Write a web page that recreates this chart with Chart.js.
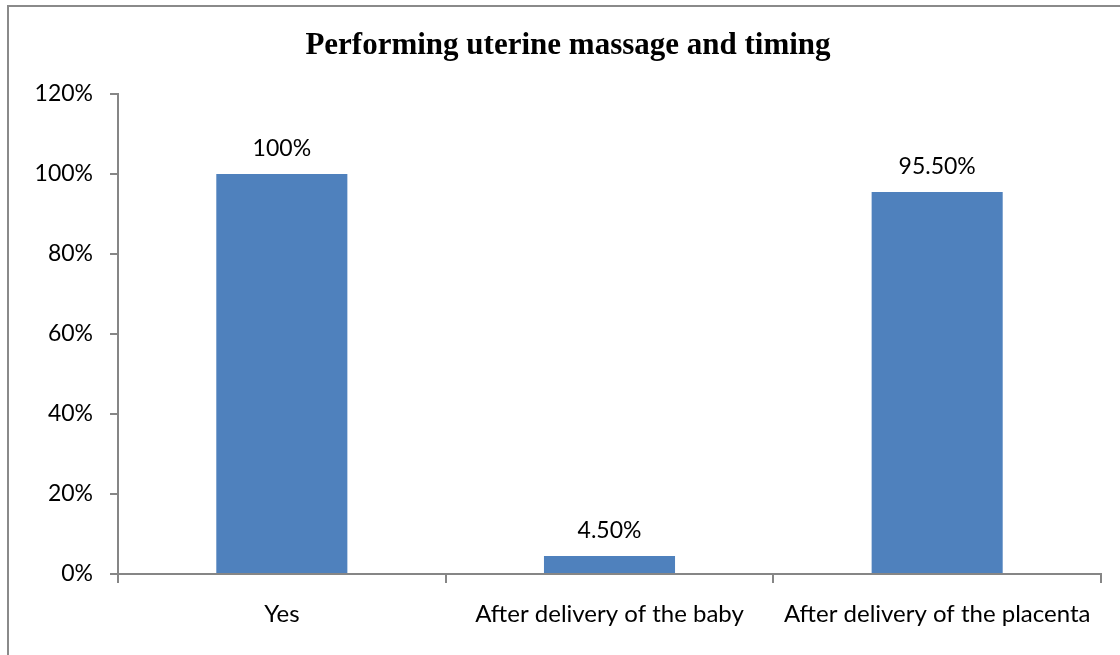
<!DOCTYPE html>
<html>
<head>
<meta charset="utf-8">
<script src="https://cdn.jsdelivr.net/npm/chart.js@4.4.1/dist/chart.umd.min.js"></script>
<style>
    body { margin: 0; background: #fff; }
    #wrap { position: relative; width: 1120px; height: 655px; overflow: hidden; }
    #chart { position: absolute; left: 0; top: 0; }
    #frame {
        position: absolute; left: 7px; top: 5px; width: 1200px; height: 700px;
        border-left: 2px solid #8a8a8a; border-top: 2px solid #8a8a8a;
        pointer-events: none;
    }
</style>
</head>
<body>
<div id="wrap">
    <canvas id="chart" width="1120" height="655"></canvas>
    <div id="frame"></div>
</div>
<script>
const chartTitle = 'Performing uterine massage and timing';
const categories = ['Yes', 'After delivery of the baby', 'After delivery of the placenta'];
const values = [100, 4.5, 95.5];
const valueLabels = ['100%', '4.50%', '95.50%'];
const yTicks = [0, 20, 40, 60, 80, 100, 120];

const axisColor = '#868686';
const barColor = '#4f81bd';

// draws the value above each bar and the title
const labelPlugin = {
    id: 'barLabels',
    afterDatasetsDraw(chart) {
        const ctx = chart.ctx;
        const meta = chart.getDatasetMeta(0);
        ctx.save();
        ctx.fillStyle = '#000';
        ctx.font = '23px Lato';
        ctx.textAlign = 'center';
        ctx.textBaseline = 'alphabetic';
        meta.data.forEach((bar, i) => {
            ctx.fillText(valueLabels[i], bar.x, bar.y - 18);
        });
        ctx.font = 'bold 31px "Liberation Serif"';
        ctx.fillText(chartTitle, 568, 54);
        ctx.restore();
    }
};

const ctx = document.getElementById('chart').getContext('2d');
new Chart(ctx, {
    type: 'bar',
    data: {
        labels: categories,
        datasets: [{
            data: values,
            backgroundColor: barColor,
            borderWidth: 0,
            barPercentage: 0.4,
            categoryPercentage: 1
        }]
    },
    options: {
        responsive: false,
        animation: false,
        layout: { padding: { left: 0, right: 19, top: 94, bottom: 0 } },
        plugins: {
            legend: { display: false },
            tooltip: { enabled: false },
            title: { display: false }
        },
        scales: {
            x: {
                grid: {
                    drawOnChartArea: false,
                    drawTicks: true,
                    tickLength: 9,
                    color: axisColor,
                    lineWidth: 2
                },
                border: { color: axisColor, width: 2 },
                ticks: { color: '#000', font: { family: 'Lato', size: 24 }, padding: 17, maxRotation: 0 },
                afterFit: scale => { scale.height = 81; }
            },
            y: {
                min: 0,
                max: 120,
                afterBuildTicks: scale => { scale.ticks = yTicks.map(v => ({ value: v })); },
                grid: {
                    drawOnChartArea: false,
                    drawTicks: true,
                    tickLength: 8,
                    color: axisColor,
                    lineWidth: 2
                },
                border: { color: axisColor, width: 2 },
                ticks: {
                    color: '#000',
                    font: { family: 'Lato', size: 23 },
                    padding: 17,
                    callback: v => v + '%'
                },
                afterFit: scale => { scale.width = 118; }
            }
        }
    },
    plugins: [labelPlugin]
});
</script>
</body>
</html>
